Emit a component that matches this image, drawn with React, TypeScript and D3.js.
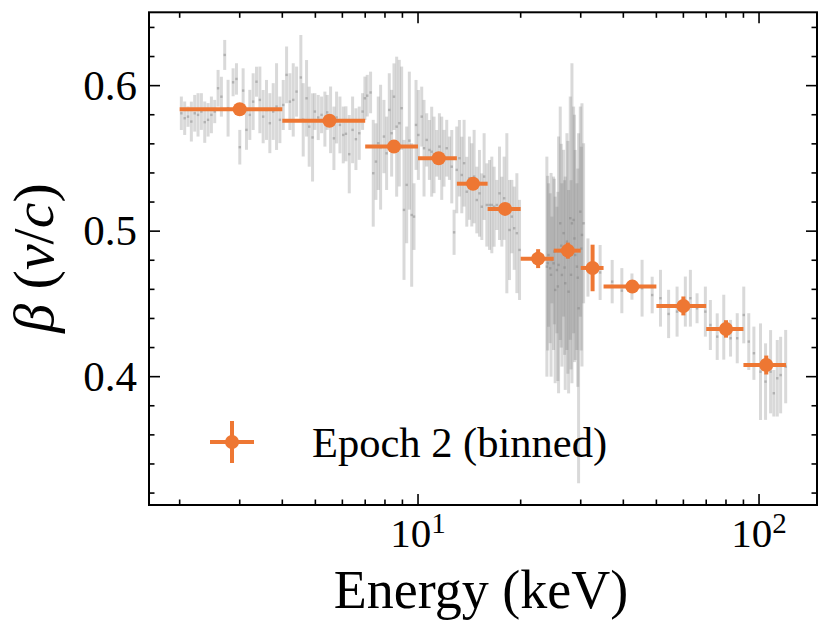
import React from 'react';
import * as d3 from 'd3';

// Binned points (Epoch 2)
const binEnergy = [3, 5.5, 8.5, 11.5, 14.5, 18, 22.5, 27.5, 32.5, 42.5, 60, 80, 105];
const binLo = [2, 4, 7, 10, 13, 16, 20, 25, 30, 35, 50, 70, 90];
const binHi = [4, 7, 10, 13, 16, 20, 25, 30, 35, 50, 70, 90, 120];
const binBeta = [0.5838, 0.5759, 0.5581, 0.5501, 0.5326, 0.5153, 0.4811, 0.4866, 0.4747, 0.4619, 0.4486, 0.4328, 0.408];
const binErr = [0.003, 0.003, 0.003, 0.003, 0.003, 0.003, 0.0065, 0.0055, 0.016, 0.004, 0.0065, 0.006, 0.0065];

// Unbinned spectrum (grey)
const grayEnergy = [
  2.023, 2.069, 2.116, 2.164, 2.214, 2.264, 2.316, 2.369, 2.423, 2.478, 2.534, 2.592, 2.651, 2.711, 2.773,
  2.869, 2.935, 3.002, 3.07, 3.14, 3.212, 3.285, 3.36, 3.437, 3.515, 3.595, 3.677, 3.761, 3.847, 3.935,
  4.025, 4.117, 4.21, 4.306, 4.404,
  4.533, 4.606, 4.711, 4.797, 4.906, 4.984, 5.098, 5.214, 5.333, 5.418, 5.541, 5.667, 5.77, 5.902, 6.036,
  6.146, 6.286, 6.429, 6.575, 6.724, 6.877, 6.986, 7.097, 7.259, 7.391, 7.526, 7.646, 7.767, 7.945, 8.089,
  8.237, 8.368, 8.501, 8.656, 8.813, 8.954, 9.097, 9.263, 9.431, 9.581, 9.733, 9.866, 10.023,
  10.251, 10.414, 10.604, 10.796, 10.967, 11.143, 11.346, 11.552, 11.736, 11.923, 12.14, 12.361, 12.558, 12.758,
  12.99, 13.226, 13.437, 13.65, 13.899, 14.152, 14.377, 14.606, 14.872, 15.142, 15.383, 15.628, 15.912, 16.202,
  16.459, 16.721, 17.025, 17.335, 17.611, 17.891, 18.217, 18.548, 18.843, 19.143, 19.492, 19.846,
  23.87, 24.14, 24.41, 24.69, 24.97, 25.25, 25.54, 25.83, 26.12, 26.42, 26.72, 27.02, 27.33, 27.64, 27.95,
  28.27, 28.59, 28.91, 29.24, 29.57, 29.91, 30.25, 30.59,
  24.0, 24.55, 25.1, 25.7, 26.3, 26.9, 27.5, 28.1, 28.75, 29.4, 30.1,
  31.5, 34.2, 37.1, 39.6, 42.4, 45.4, 48.6, 51.4, 54.3, 57.5, 60.8, 62.9, 65.8, 69.6, 72.0,
  75.4, 78.8, 82.5, 86.3, 90.2, 93.3, 96.6, 101, 104.5, 108.1, 110.5, 113.1, 115.7, 119.7,
];
const grayBeta = [
  0.581, 0.5776, 0.5787, 0.5753, 0.581, 0.5799, 0.5822, 0.5749, 0.5765, 0.5799, 0.5822, 0.5982, 0.5924, 0.6211, 0.5845,
  0.6023, 0.6046, 0.5577, 0.5966, 0.5696, 0.5799, 0.589, 0.6027, 0.5902, 0.5787, 0.5833, 0.5742, 0.5822, 0.5856, 0.5765,
  0.5867, 0.6074, 0.589, 0.5902, 0.5959,
  0.6056, 0.5765, 0.5913, 0.5718, 0.5644, 0.5822, 0.5781, 0.5799, 0.577, 0.5816, 0.5765, 0.5638, 0.5781, 0.573, 0.5661,
  0.5669, 0.5529, 0.5696, 0.5632, 0.5673, 0.5822, 0.5913, 0.5931, 0.5953, 0.5398, 0.5478, 0.5604, 0.5577, 0.565, 0.5535,
  0.5833, 0.5673, 0.5924, 0.5718, 0.5742, 0.5845, 0.5146, 0.5318, 0.5622, 0.5111, 0.51, 0.573, 0.5661,
  0.5787, 0.557, 0.5627, 0.5558, 0.5546, 0.5524, 0.5535, 0.5581, 0.5501, 0.5501, 0.557, 0.5501, 0.5443, 0.4992,
  0.5421, 0.5501, 0.5386, 0.5467, 0.5271, 0.5364, 0.5318, 0.5375, 0.5214, 0.526, 0.5168, 0.5375, 0.518, 0.518,
  0.518, 0.5168, 0.518, 0.526, 0.5134, 0.5226, 0.5123, 0.5008, 0.51, 0.502, 0.4986, 0.4871,
  0.4756, 0.4836, 0.4745, 0.4802, 0.4779, 0.4596, 0.4733, 0.4768, 0.5054, 0.4699, 0.4986, 0.4642, 0.4928, 0.4584, 0.5089,
  0.5054, 0.5077, 0.4836, 0.4756, 0.447, 0.5134, 0.4974, 0.5054,
  0.478, 0.47, 0.486, 0.462, 0.49, 0.475, 0.482, 0.47, 0.495, 0.468, 0.488,
  0.475, 0.4716, 0.4653, 0.4591, 0.4619, 0.4608, 0.4561, 0.4539, 0.4431, 0.4447, 0.4516, 0.4539, 0.447, 0.4447, 0.4355,
  0.4275, 0.434, 0.4264, 0.4264, 0.4424, 0.4241, 0.4161, 0.4034, 0.3966, 0.4034, 0.3886, 0.3989, 0.4011, 0.4069,
];
const grayErr = [
  0.0115, 0.0115, 0.007, 0.0137, 0.0126, 0.0149, 0.0126, 0.0142, 0.0115, 0.0126, 0.008, 0.0126, 0.0137, 0.0103, 0.0195,
  0.0096, 0.0108, 0.0119, 0.0153, 0.0137, 0.0172, 0.0195, 0.0103, 0.0229, 0.0183, 0.0206, 0.0206, 0.0195, 0.0298, 0.016,
  0.0172, 0.0195, 0.0195, 0.0252, 0.0172,
  0.0292, 0.0252, 0.0263, 0.0275, 0.0303, 0.0126, 0.0155, 0.0126, 0.0189, 0.012, 0.0229, 0.0218, 0.0178, 0.0195, 0.0195,
  0.0189, 0.0269, 0.0229, 0.0212, 0.0183, 0.0126, 0.0149, 0.0143, 0.0143, 0.0367, 0.0263, 0.0321, 0.0429, 0.0252, 0.0252,
  0.0252, 0.0298, 0.0229, 0.0481, 0.0435, 0.0286, 0.0481, 0.0401, 0.0474, 0.0493, 0.0229, 0.0309, 0.0309,
  0.0206, 0.0332, 0.0183, 0.0206, 0.0309, 0.0263, 0.016, 0.0229, 0.0286, 0.0195, 0.0195, 0.0149, 0.0252, 0.0155,
  0.0298, 0.0263, 0.0263, 0.0298, 0.024, 0.0286, 0.0286, 0.0321, 0.0229, 0.0298, 0.0229, 0.0298, 0.0286, 0.0309,
  0.0332, 0.0275, 0.0172, 0.0321, 0.024, 0.0286, 0.055, 0.0344, 0.0252, 0.0286, 0.0412, 0.0344,
  0.0756, 0.0493, 0.0515, 0.0298, 0.0596, 0.0641, 0.0435, 0.0882, 0.0802, 0.063, 0.0573, 0.0733, 0.0745, 0.0699, 0.0836,
  0.11, 0.0779, 0.0722, 0.0573, 0.1203, 0.0722, 0.0905, 0.055,
  0.06, 0.07, 0.05, 0.065, 0.07, 0.06, 0.08, 0.065, 0.085, 0.075, 0.07,
  0.02, 0.0189, 0.0149, 0.0155, 0.009, 0.0195, 0.0126, 0.0195, 0.0166, 0.0172, 0.0172, 0.0195, 0.0103, 0.0172, 0.0172,
  0.016, 0.0223, 0.0126, 0.0172, 0.0195, 0.0195, 0.0183, 0.0332, 0.0263, 0.0286, 0.016, 0.0263, 0.0263, 0.0252,
];

const yMajor = [0.4, 0.5, 0.6];
const yMinor = [0.32, 0.34, 0.36, 0.38, 0.42, 0.44, 0.46, 0.48, 0.52, 0.54, 0.56, 0.58, 0.62, 0.64];
const xMajor = [10, 100];
const xMinor = [2, 3, 4, 5, 6, 7, 8, 9, 20, 30, 40, 50, 60, 70, 80, 90];

const ORANGE = '#EE7733';
const FONT = '"Liberation Serif", "Times New Roman", serif';

const width = 831;
const height = 633;
const plot = { left: 149, right: 817, top: 12.3, bottom: 505 };

export default function App() {
  const x = d3.scaleLog().domain([1.626, 147.9]).range([plot.left, plot.right]);
  const y = d3.scaleLinear().domain([0.3118, 0.6504]).range([plot.bottom, plot.top]);

  const majorLen = 11;
  const minorLen = 5.5;

  return (
    <div style={{ position: 'absolute', left: 0, top: 0 }}>
      <svg width={width} height={height} style={{ display: 'block', background: '#fff' }} fontFamily={FONT}>
        {/* grey unbinned error bars */}
        <g stroke="#808080" strokeOpacity={0.3} strokeWidth={3}>
          {grayEnergy.map((e, i) => (
            <line key={i} x1={x(e)} x2={x(e)} y1={y(grayBeta[i] + grayErr[i])} y2={y(grayBeta[i] - grayErr[i])} />
          ))}
        </g>
        <g fill="#808080" fillOpacity={0.45}>
          {grayEnergy.map((e, i) => (
            <rect key={i} x={x(e) - 1.2} y={y(grayBeta[i]) - 1.2} width={2.4} height={2.4} />
          ))}
        </g>

        {/* binned points */}
        <g stroke={ORANGE} strokeWidth={4}>
          {binEnergy.map((e, i) => (
            <g key={i}>
              <line x1={x(binLo[i])} x2={x(binHi[i])} y1={y(binBeta[i])} y2={y(binBeta[i])} />
              <line x1={x(e)} x2={x(e)} y1={y(binBeta[i] + binErr[i])} y2={y(binBeta[i] - binErr[i])} />
            </g>
          ))}
        </g>
        <g fill={ORANGE}>
          {binEnergy.map((e, i) => (
            <circle key={i} cx={x(e)} cy={y(binBeta[i])} r={7} />
          ))}
        </g>

        {/* ticks, all four sides, pointing in */}
        <g stroke="#000" strokeWidth={1.6}>
          {[...xMajor.map(v => [v, majorLen]), ...xMinor.map(v => [v, minorLen])].map(([v, len], i) => (
            <g key={'x' + i}>
              <line x1={x(v)} x2={x(v)} y1={plot.bottom} y2={plot.bottom - len} />
              <line x1={x(v)} x2={x(v)} y1={plot.top} y2={plot.top + len} />
            </g>
          ))}
          {[...yMajor.map(v => [v, majorLen]), ...yMinor.map(v => [v, minorLen])].map(([v, len], i) => (
            <g key={'y' + i}>
              <line x1={plot.left} x2={plot.left + len} y1={y(v)} y2={y(v)} />
              <line x1={plot.right} x2={plot.right - len} y1={y(v)} y2={y(v)} />
            </g>
          ))}
        </g>
        <rect x={plot.left} y={plot.top} width={plot.right - plot.left} height={plot.bottom - plot.top}
          fill="none" stroke="#000" strokeWidth={2} />

        {/* tick labels */}
        {yMajor.map(v => (
          <text key={v} x={plot.left - 12} y={y(v) + 14} textAnchor="end" fontSize={43}>{v.toFixed(1)}</text>
        ))}
        {xMajor.map(v => (
          <text key={v} x={x(v)} y={547} textAnchor="middle" fontSize={41}>
            10<tspan dy={-14} fontSize={29}>{Math.round(Math.log10(v))}</tspan>
          </text>
        ))}

        {/* axis labels */}
        <text x={(plot.left + plot.right) / 2 - 2} y={608} textAnchor="middle" fontSize={54}>Energy (keV)</text>
        <text transform={`translate(53, 258) rotate(-90)`} textAnchor="middle" fontSize={58}>
          <tspan fontStyle="italic">β</tspan> (<tspan fontStyle="italic">v</tspan>/<tspan fontStyle="italic">c</tspan>)
        </text>

        {/* legend */}
        <g stroke={ORANGE} strokeWidth={4}>
          <line x1={210} x2={254} y1={442} y2={442} />
          <line x1={232} x2={232} y1={421} y2={463} />
        </g>
        <circle cx={232} cy={442} r={7} fill={ORANGE} />
        <text x={312} y={457} fontSize={42.5}>Epoch 2 (binned)</text>
      </svg>
    </div>
  );
}
